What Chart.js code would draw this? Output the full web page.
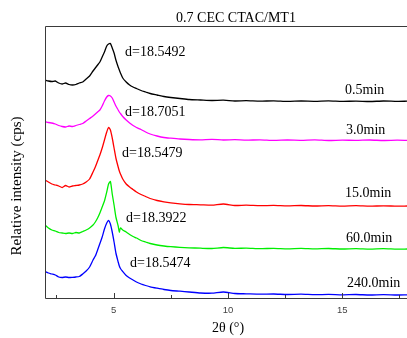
<!DOCTYPE html>
<html>
<head>
<meta charset="utf-8">
<script src="https://cdn.jsdelivr.net/npm/chart.js@4"></script>
<style>
html,body{margin:0;padding:0;background:#fff;}
#wrap{width:407px;height:338px;position:relative;}
</style>
</head>
<body>
<div id="wrap"><canvas id="c" width="407" height="338"></canvas></div>
<script>
// ---- data ----
const twoTheta = [2.0,2.15,2.3,2.45,2.6,2.75,2.9,3.05,3.2,3.35,3.5,3.65,3.8,3.95,4.1,4.2,4.3,4.4,4.5,4.6,4.7,4.78,4.86,4.94,5.02,5.1,5.2,5.25,5.3,5.4,5.55,5.7,5.85,6.0,6.2,6.4,6.6,6.9,7.2,7.5,7.9,8.3,8.8,9.3,9.8,10.3,10.8,11.4,12.0,12.6,13.2,13.8,14.4,15.0,15.6,16.2,16.8,17.4,17.83];

const s05min = [218,217,216.5,217,215,214,215,213.5,213,213.5,215,216,219,222,227,230,233,236,241,246,252,254,254.5,250,245,238,231,228,225,220,216,213,211,209.5,207.5,206,204.5,203,201.5,200.5,199.5,198.5,198,197.5,197.8,197,197.3,196.8,197.2,196.6,197,196.7,197.1,196.6,196.9,196.5,197,196.6,196.8];
const s30min = [176.5,175.5,175,174,172.5,171.5,171,172,171.5,172.5,173.5,174.5,177,179.5,182,184,186,188,192,197,201,202.5,202,200,196,192,188,186,184.5,181.5,178,175,172.5,170.5,168.5,166,164,162,160.5,159.8,159,158.5,158.2,158.6,158,158.3,157.8,158.2,157.6,158,157.7,158.1,157.5,157.9,157.6,158,157.5,157.8,157.6];
const s150min = [118,116,114,113,112,110.5,112.5,111,112,112.5,113,114,116,119,126,131,137,143,150,158,166,170.5,168,160,150,140,131,127,124,119,114,111,108.5,106,103.5,101.5,99.5,97.5,96.2,95.2,94.2,93.5,93.2,92.8,94,92.5,92.8,92.3,92.6,92.1,92.5,92,92.4,91.9,92.3,91.8,92.2,91.8,92];
const s600min = [73,70,68,67,65.5,65,64.5,65,64.5,65.5,65,66.5,68,70,73,76,80,85,91,97,106,114,116.5,104,93,81,72,66,70,68,66,63.5,61.5,60,57.5,56,54.5,53,52,51.3,50.7,50.2,49.8,49.5,50.5,49.6,49.9,49.3,49.7,49.2,49.6,49.1,49.5,49,49.4,48.9,49.3,48.8,49];
const s2400min = [26.5,25,24,23,21,20.5,21,20.5,20.7,21,21.5,24,27,31,38,42,48,54.5,61,69,75,77.5,74,66,56,45,36,32,29.5,26.5,22.5,20,18,16,14,12.5,11.2,9.8,8.5,7.5,6.8,6,5,4.8,6,4.5,4.2,3.8,4,3.5,3.8,3.3,3.6,3.2,3.5,3,3.4,3,3.2];

const seriesNames = ['0.5min','3.0min','15.0min','60.0min','240.0min'];
const dLabels = ['d=18.5492','d=18.7051','d=18.5479','d=18.3922','d=18.5474'];
const majorTicks = [5,10,15];
const minorTicks = [2.5,7.5,12.5,17.5];
const chartTitle = '0.7 CEC CTAC/MT1';
const xTitle = '2\u03B8 (\u00B0)';
const yTitle = 'Relative intensity (cps)';

// ---- styles / layout ----
const colors = ['#000000','#ff00ff','#ff0000','#00ee00','#0000ff'];
const allSeries = [s05min,s30min,s150min,s600min,s2400min];
const serif = '"Liberation Serif","Times New Roman",serif';
const dPos = [[125,52],[125,112],[122,153],[126,218],[130,263]];
const nPos = [[345,90],[346,130],[345,193],[346,238],[347,283]];

const datasets = allSeries.map((s,i)=>({
  label: seriesNames[i],
  data: twoTheta.map((x,j)=>({x:x,y:s[j]})),
  borderColor: colors[i],
  borderWidth: 1.3,
  pointRadius: 0,
  tension: 0.2,
  fill: false
}));

const deco = {
  id:'deco',
  afterDraw(chart){
    const ctx = chart.ctx, a = chart.chartArea, xs = chart.scales.x;
    ctx.save();
    // frame
    ctx.strokeStyle = '#3a3a3a';
    ctx.lineWidth = 1;
    ctx.beginPath();
    ctx.moveTo(407, a.top+0.5); ctx.lineTo(a.left+0.5, a.top+0.5);
    ctx.lineTo(a.left+0.5, a.bottom+0.5); ctx.lineTo(407, a.bottom+0.5);
    ctx.stroke();
    // ticks (inward)
    ctx.beginPath();
    majorTicks.forEach(v=>{const p=Math.round(xs.getPixelForValue(v))+0.5; ctx.moveTo(p,a.bottom); ctx.lineTo(p,a.bottom-5);});
    minorTicks.forEach(v=>{const p=Math.round(xs.getPixelForValue(v))+0.5; ctx.moveTo(p,a.bottom); ctx.lineTo(p,a.bottom-3);});
    ctx.stroke();
    // tick labels
    ctx.fillStyle = '#444';
    ctx.font = '9.5px "Liberation Sans",Arial,sans-serif';
    ctx.textAlign = 'center'; ctx.textBaseline = 'middle';
    majorTicks.forEach(v=>ctx.fillText(String(v), xs.getPixelForValue(v), 310));
    // titles
    ctx.fillStyle = '#000';
    ctx.font = '14px '+serif;
    ctx.fillText(chartTitle, 236, 18);
    ctx.fillText(xTitle, 228, 328);
    ctx.save();
    ctx.translate(17, 186); ctx.rotate(-Math.PI/2);
    ctx.font = '15px '+serif;
    ctx.fillText(yTitle, 0, 0);
    ctx.restore();
    // annotations
    ctx.textAlign = 'left';
    ctx.font = '14px '+serif;
    dLabels.forEach((t,i)=>ctx.fillText(t, dPos[i][0], dPos[i][1]));
    seriesNames.forEach((t,i)=>ctx.fillText(t, nPos[i][0], nPos[i][1]));
    ctx.restore();
  }
};

new Chart(document.getElementById('c'), {
  type:'line',
  data:{datasets:datasets},
  options:{
    responsive:false,
    animation:false,
    layout:{padding:{left:45,top:26,right:0,bottom:40}},
    plugins:{legend:{display:false},title:{display:false},tooltip:{enabled:false}},
    scales:{
      x:{type:'linear',min:2,max:17.83,display:false},
      y:{type:'linear',min:0,max:272,display:false}
    }
  },
  plugins:[deco]
});
</script>
</body>
</html>
